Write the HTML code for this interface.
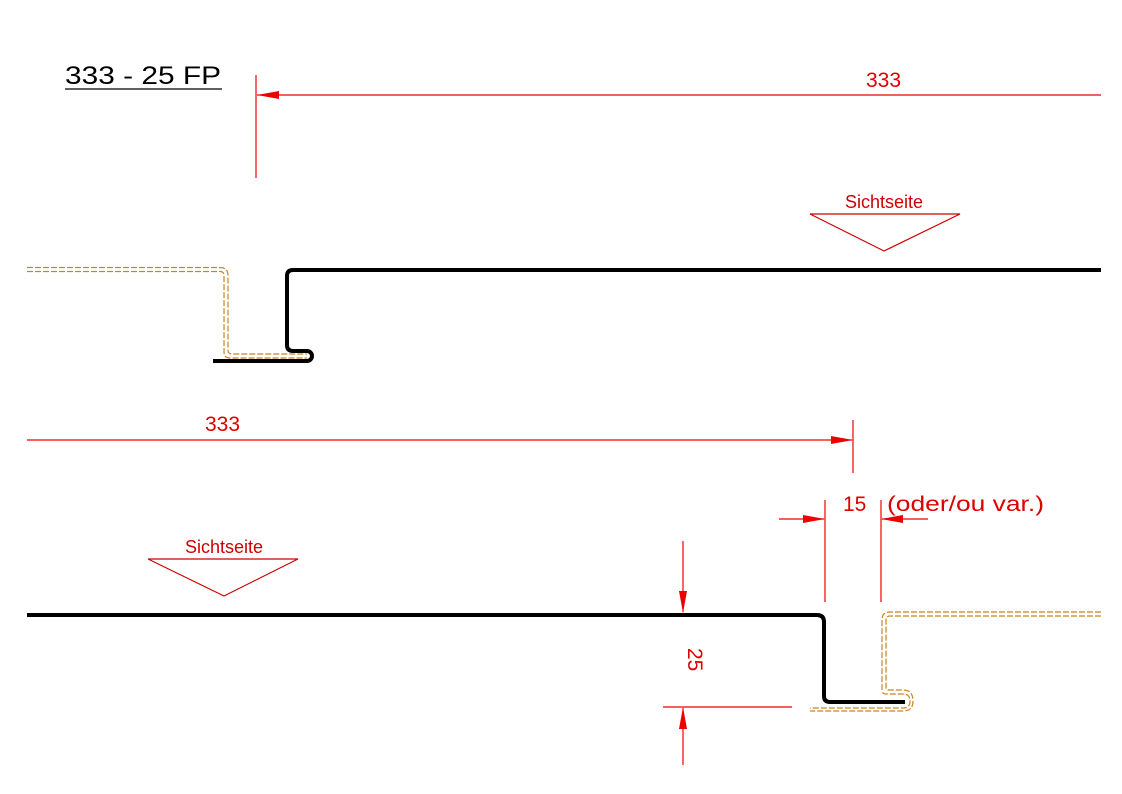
<!DOCTYPE html>
<html><head><meta charset="utf-8"><style>
html,body{margin:0;padding:0;background:#fff}
svg{display:block}
text{font-family:"Liberation Sans",sans-serif}
</style></head><body>
<svg width="1122" height="794" viewBox="0 0 1122 794" xmlns="http://www.w3.org/2000/svg">
<!-- title -->
<text x="65" y="84" font-size="25" fill="#000" textLength="156" lengthAdjust="spacingAndGlyphs">333 - 25 FP</text>
<line x1="65" y1="89" x2="222" y2="89" stroke="#000" stroke-width="1.3"/>

<g stroke="#e00" stroke-width="1.2" fill="none">
<line x1="256" y1="75" x2="256" y2="178"/>
<line x1="257" y1="95" x2="1101" y2="95"/>
<line x1="853" y1="420" x2="853" y2="473"/>
<line x1="27" y1="440" x2="852" y2="440"/>
<line x1="825" y1="500" x2="825" y2="602"/>
<line x1="881" y1="500" x2="881" y2="602"/>
<line x1="779" y1="519" x2="824" y2="519"/>
<line x1="882" y1="519" x2="928" y2="519"/>
<line x1="683" y1="541" x2="683" y2="612"/>
<line x1="663" y1="707" x2="792" y2="707"/>
<line x1="683" y1="708" x2="683" y2="765"/>
</g>
<g stroke="#c00" stroke-width="1.2" fill="none">
<polyline points="810,214 960,214 884,251 810,214"/>
<polyline points="148,559 298,559 224,596 148,559"/>
</g>
<g fill="#e00">
<polygon points="257,95 279,91 279,99"/>
<polygon points="853,440 831,436 831,444"/>
<polygon points="825,519 803,515 803,523"/>
<polygon points="881,519 903,515 903,523"/>
<polygon points="683,613 679,591 687,591"/>
<polygon points="683,707 679,729 687,729"/>
</g>
<g fill="#d00" font-size="21">
<text x="866" y="87">333</text>
<text x="205" y="431">333</text>
<text x="843" y="511">15</text>
<text x="887" y="511" textLength="157" lengthAdjust="spacingAndGlyphs">(oder/ou var.)</text>
<text x="0" y="0" transform="translate(688,648) rotate(90)">25</text>
</g>
<g fill="#c00" font-size="18">
<text x="884" y="208" text-anchor="middle">Sichtseite</text>
<text x="224" y="553" text-anchor="middle">Sichtseite</text>
</g>

<g fill="none" stroke="#cc8420" stroke-width="1.2" stroke-dasharray="6,2">
<path d="M27,267.5 H220 Q228,267.5 228,275.5 V350 Q228,354 232,354 H307"/>
<path d="M27,271.5 H220 Q224,271.5 224,275.5 V352 Q224,358 230,358 H307"/>
<path d="M1101,612 H890 Q882,612 882,620 V690 Q882,694 886,694 H903 Q910,694 910,701 Q910,708 903,708 H810"/>
<path d="M1101,616 H890 Q886,616 886,620 V688 Q886,690 890,690 H903 Q913,690 913,701 Q913,711 903,711 H810"/>
</g>
<g fill="none" stroke="#000" stroke-width="4" stroke-linejoin="round">
<path d="M1101,270 H293 Q287,270 287,276 V345 Q287,351 293,351 H307 A5,5 0 0 1 307,361 H213"/>
<path d="M27,615 H817 Q824,615 824,622 V696 Q824,702 830,702 H905"/>
</g>
</svg>
</body></html>
